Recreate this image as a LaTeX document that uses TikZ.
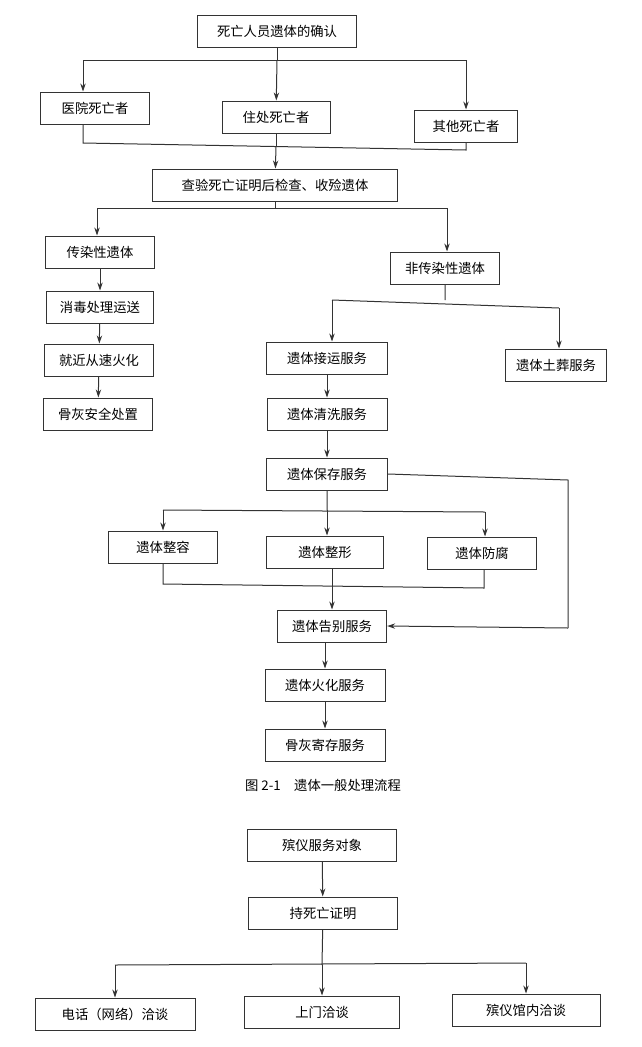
\documentclass[tikz,border=0pt]{standalone}
\usepackage{fontspec}
\setmainfont{Noto Sans CJK SC}
\usetikzlibrary{arrows.meta}
\tikzset{every picture/.style={line width=0.75pt}}
\tikzset{box/.style={draw=black!80,fill=white,inner sep=0.75pt,minimum height=24pt,font=\fontsize{10}{12}\selectfont},
  flow/.style={draw=black!80,-{Stealth[length=6pt,width=4pt]}},
  ln/.style={draw=black!80}}
\begin{document}
\begin{tikzpicture}[x=0.75pt,y=0.75pt,yscale=-1,xscale=1]
\useasboundingbox (0,0) rectangle (642,1047);
% Text Node
\node [box,minimum width=119pt] (confirm) at (277,31) {死亡人员遗体的确认};
\node [box,minimum width=82pt] (hosp) at (95,108) {医院死亡者};
\node [box,minimum width=81pt] (home) at (276,117) {住处死亡者};
\node [box,minimum width=77pt] (other) at (466,126) {其他死亡者};
\node [box,minimum width=184pt] (check) at (275,185) {查验死亡证明后检查、收殓遗体};
\node [box,minimum width=82pt] (inf) at (100,252) {传染性遗体};
\node [box,minimum width=82pt] (noninf) at (445,268) {非传染性遗体};
\node [box,minimum width=80pt] (disinf) at (100,307) {消毒处理运送};
\node [box,minimum width=82pt] (crem1) at (99,360) {就近从速火化};
\node [box,minimum width=82pt] (ash1) at (98,414) {骨灰安全处置};
\node [box,minimum width=91pt] (trans) at (327,358) {遗体接运服务};
\node [box,minimum width=76pt] (burial) at (556,365) {遗体土葬服务};
\node [box,minimum width=90pt] (wash) at (327,414) {遗体清洗服务};
\node [box,minimum width=91pt] (keep) at (327,474) {遗体保存服务};
\node [box,minimum width=82pt] (face) at (163,547) {遗体整容};
\node [box,minimum width=88pt] (shape) at (325,552) {遗体整形};
\node [box,minimum width=82pt] (embalm) at (482,553) {遗体防腐};
\node [box,minimum width=82pt] (farewell) at (332,626) {遗体告别服务};
\node [box,minimum width=90pt] (crem2) at (325,685) {遗体火化服务};
\node [box,minimum width=90pt] (ash2) at (325,745) {骨灰寄存服务};
\node [font=\fontsize{10}{12}\selectfont] (cap) at (323,785) {图 2-1\quad 遗体一般处理流程};
\node [box,minimum width=112pt] (client) at (322,845) {殡仪服务对象};
\node [box,minimum width=112pt] (cert) at (323,913) {持死亡证明};
\node [box,minimum width=120pt] (phone) at (115,1014) {电话（网络）洽谈};
\node [box,minimum width=116pt] (visit) at (322,1012) {上门洽谈};
\node [box,minimum width=111pt] (hall) at (526,1010) {殡仪馆内洽谈};
% Connectors
\coordinate (s1) at (277,60);
\draw [ln] (confirm) -- (s1) (83,60) -- (466,60);
\draw [flow] (83,60) -- (hosp.north -| 83,0);
\draw [flow] (s1) -- (home);
\draw [flow] (466,60) -- (other);
\draw [ln] (hosp.south -| 83,0) -- (83,143) -- (466,150) -- (other.south -| 466,0);
\draw [ln] (home) -- (276,146);
\draw [flow] (276,146) -- (check);
\draw [ln] (check) -- (275,208) (97,208) -- (447,208);
\draw [flow] (97,208) -- (inf.north -| 97,0);
\draw [flow] (447,208) -- (noninf.north -| 447,0);
\draw [flow] (inf) -- (disinf);
\draw [flow] (disinf) -- (crem1);
\draw [flow] (crem1) -- (ash1);
\draw [ln] (noninf) -- (445,300) (332,300) -- (559,308);
\draw [flow] (332,300) -- (trans.north -| 332,0);
\draw [flow] (559,308) -- (burial.north -| 559,0);
\draw [flow] (trans) -- (wash);
\draw [flow] (wash) -- (keep);
\draw [ln] (keep) -- (327,510) (163,510) -- (485,512);
\draw [flow] (163,510) -- (face);
\draw [flow] (327,510) -- (shape.north -| 327,0);
\draw [flow] (485,512) -- (embalm.north -| 485,0);
\draw [ln] (keep.east) -- (568,480) -- (568,628);
\draw [flow] (568,628) -- (farewell.east);
\draw [ln] (face) -- (163,584) -- (484,588) -- (embalm.south -| 484,0);
\draw [ln] (shape.south -| 332,0) -- (332,586);
\draw [flow] (332,586) -- (farewell);
\draw [flow] (farewell.south -| 325,0) -- (crem2);
\draw [flow] (crem2) -- (ash2);
\draw [flow] (client) -- (cert);
\draw [ln] (cert) -- (322,965) (115,965) -- (526,963);
\draw [flow] (115,965) -- (phone);
\draw [flow] (322,965) -- (visit);
\draw [flow] (526,963) -- (hall);
\end{tikzpicture}
\end{document}
